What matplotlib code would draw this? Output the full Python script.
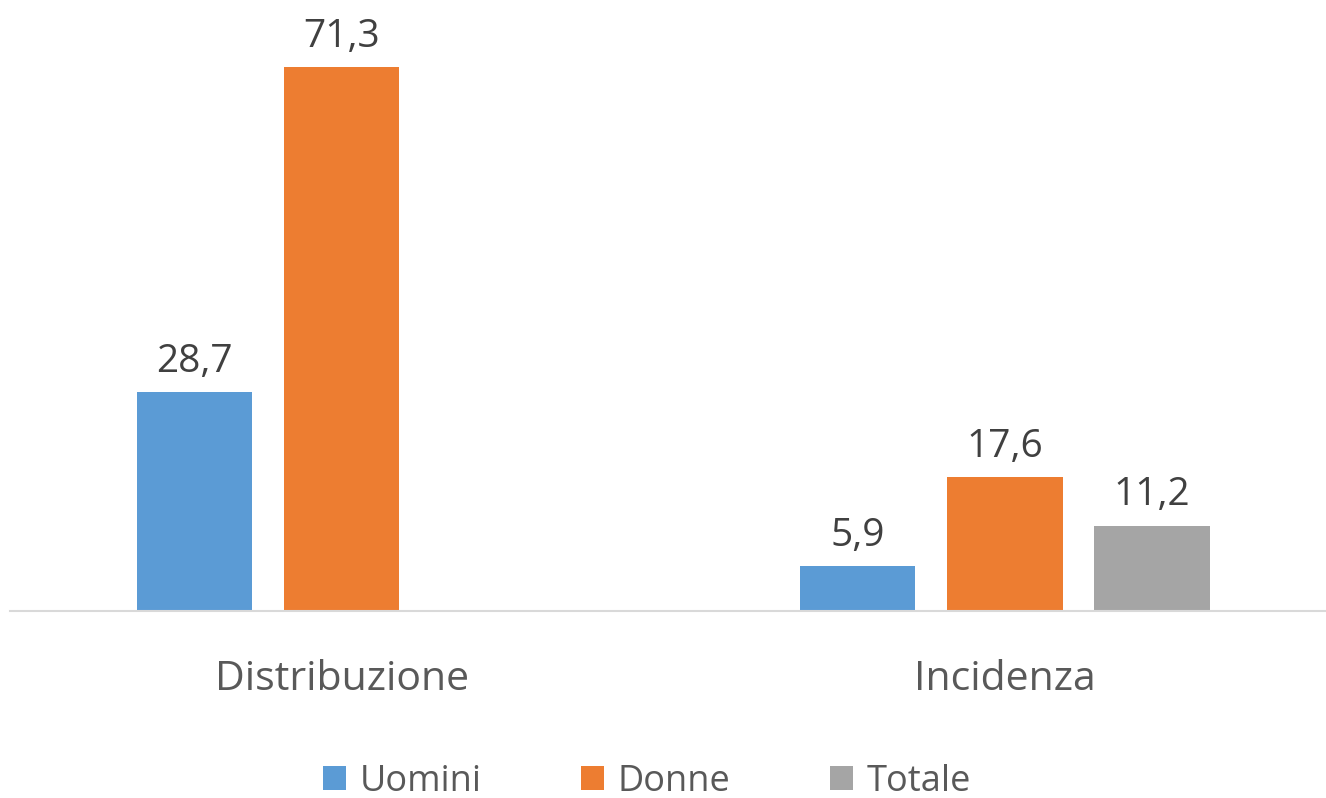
import numpy as np
import matplotlib.pyplot as plt

# ----------------------------------------------------------------------
# Data
# ----------------------------------------------------------------------
categories = ["Distribuzione", "Incidenza"]
series_names = ["Uomini", "Donne", "Totale"]
uomini = [28.7, 5.9]
donne = [71.3, 17.6]
totale = [np.nan, 11.2]   # no Totale bar for Distribuzione

colors = ["#5B9BD5", "#ED7D31", "#A5A5A5"]

plt.rcParams['font.family'] = ['Open Sans', 'DejaVu Sans']

fig = plt.figure(figsize=(13.26, 7.98), dpi=100)
ax = fig.add_axes([10/1326, 187/798, 1316/1326, 610/798])

x = np.arange(len(categories))
slot = 0.2217
width = 0.1735

for i, (name, vals) in enumerate(zip(series_names, [uomini, donne, totale])):
    bars = ax.bar(x + (i - 1) * slot, vals, width, color=colors[i], label=name)
    labels = ["" if np.isnan(v) else f"{v:.1f}".replace(".", ",") for v in vals]
    ax.bar_label(bars, labels=labels, padding=8, fontsize=28, color="#404040")

ax.set_xlim(-0.5, 1.484)
ax.set_ylim(0, 80)
ax.set_xticks(x)
ax.set_xticklabels(categories, fontsize=29.5, color="#595959")
ax.tick_params(axis='x', length=0, pad=35)
ax.set_yticks([])

for s in ["top", "right", "left"]:
    ax.spines[s].set_visible(False)
ax.spines["bottom"].set_color("#D9D9D9")
ax.spines["bottom"].set_linewidth(1.5)

fig.legend(loc="center", bbox_to_anchor=(647/1326, 1 - 782/798), ncol=3,
           frameon=False, fontsize=26, labelcolor="#595959",
           handlelength=0.64, handleheight=0.64, handletextpad=0.38,
           columnspacing=2.75)

fig.savefig("out.png", dpi=100)
